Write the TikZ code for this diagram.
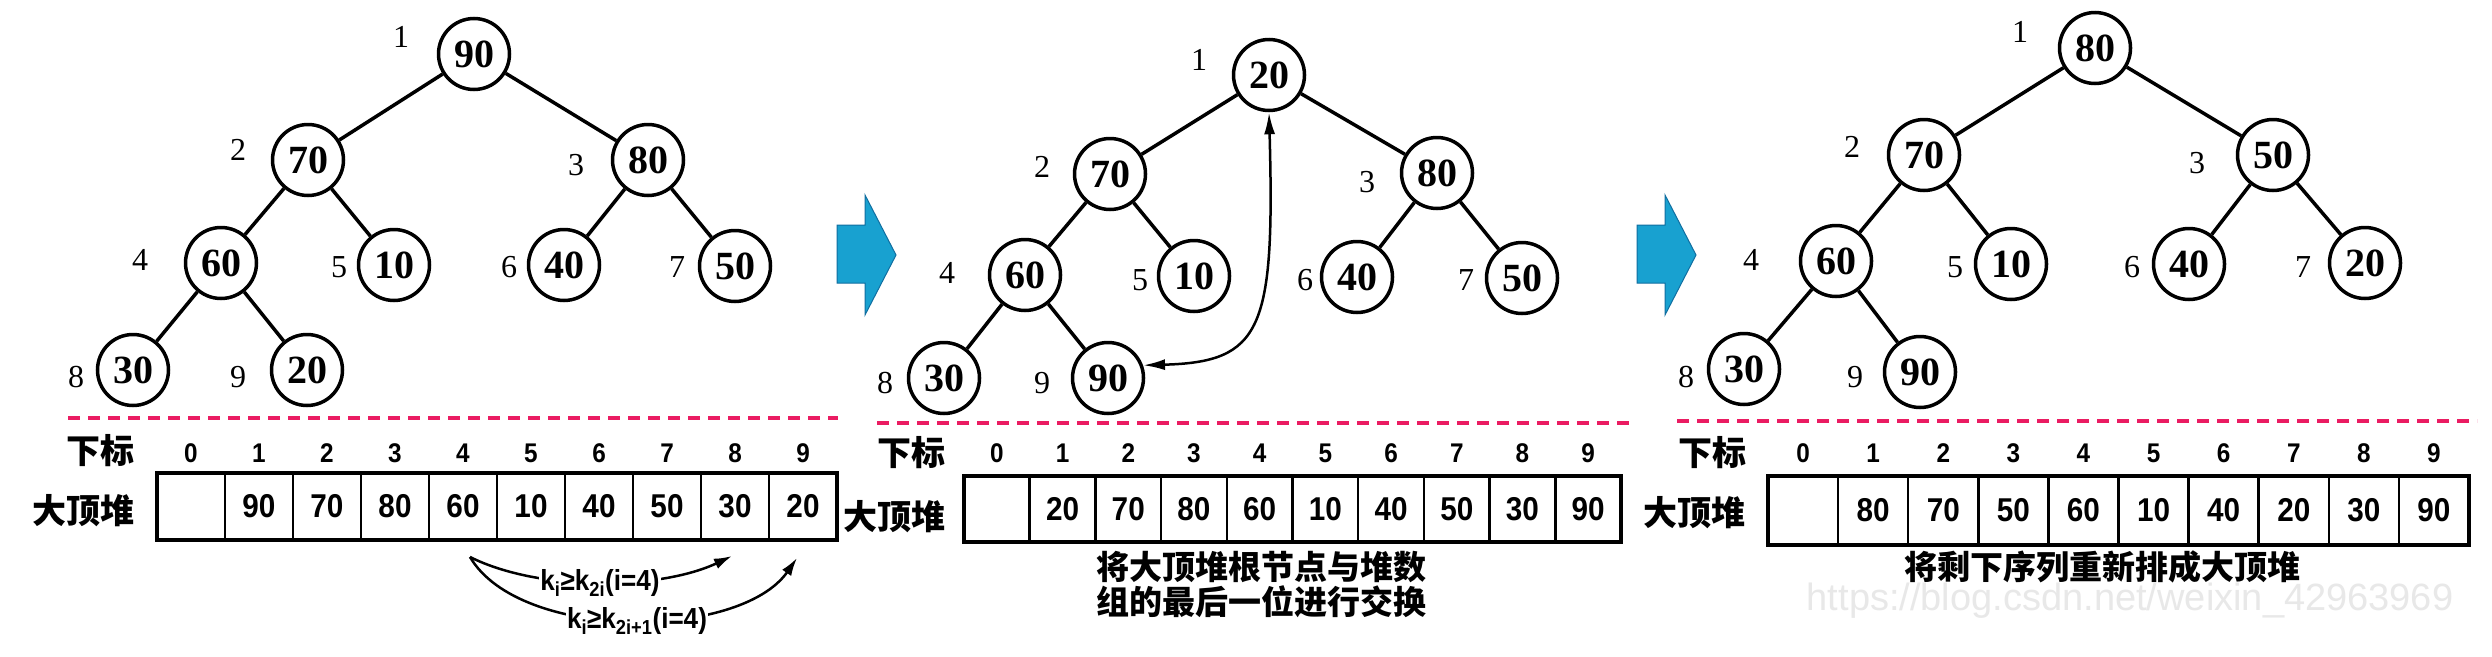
\documentclass[tikz,border=0pt]{standalone}
\usepackage{fontspec}
\setmainfont{Liberation Serif}
\setsansfont{Liberation Sans}
\newfontfamily\cjk{Noto Sans CJK SC}
\newfontfamily\arrfont[FakeStretch=0.9]{Liberation Sans}
\usetikzlibrary{arrows.meta}
\definecolor{sepred}{RGB}{234,28,98}
\definecolor{bluefill}{RGB}{24,161,208}
\definecolor{blueedge}{RGB}{16,110,160}
\definecolor{wmgray}{RGB}{232,232,232}
\tikzset{
  tnode/.style={circle, draw=black, line width=3.5pt, minimum size=71pt, inner sep=0pt, font=\rmfamily\bfseries\fontsize{40}{40}\selectfont},
  tlab/.style={inner sep=0pt, font=\rmfamily\fontsize{32}{32}\selectfont},
  tedge/.style={line width=3.5pt},
  sepline/.style={draw=sepred, line width=4pt, dash pattern=on 12pt off 8pt},
  cell/.style={draw=black, line width=2.5pt, inner sep=0pt, font=\arrfont\bfseries\fontsize{33}{33}\selectfont},
  arrframe/.style={draw=black, line width=4.5pt},
  idx/.style={inner sep=0pt, font=\arrfont\bfseries\fontsize{27}{27}\selectfont},
  cjklab/.style={inner sep=0pt, font=\cjk\bfseries\fontsize{34}{34}\selectfont},
  capt/.style={inner sep=0pt, align=center, font=\cjk\bfseries\fontsize{33}{35}\selectfont},
  bigarrow/.style={fill=bluefill, draw=blueedge, line width=1pt},
  swaparrow/.style={line width=2.5pt, {Latex[length=22pt,width=11pt]}-{Latex[length=22pt,width=11pt]}},
  notearrow/.style={line width=2.5pt, -{Latex[length=18pt,width=11pt]}},
  notelab/.style={fill=white, inner sep=1pt, font=\arrfont\bfseries\fontsize{29}{29}\selectfont},
  wmark/.style={inner sep=0pt, text=wmgray, font=\sffamily\fontsize{38}{38}\selectfont},
}
\begin{document}
\begin{tikzpicture}[x=1pt,y=-1pt]
\useasboundingbox (0,0) rectangle (2492,656);
\fill[white] (0,0) rectangle (2492,656);

% ---------------- Panel 1 ----------------
\node[tnode] (a1) at (474,54) {90};
\node[tnode] (a2) at (308,160) {70};
\node[tnode] (a3) at (648,160) {80};
\node[tnode] (a4) at (221,263) {60};
\node[tnode] (a5) at (394,265) {10};
\node[tnode] (a6) at (564,265) {40};
\node[tnode] (a7) at (735,266) {50};
\node[tnode] (a8) at (133,370) {30};
\node[tnode] (a9) at (307,370) {20};
\draw[tedge] (a1) -- (a2); \draw[tedge] (a1) -- (a3);
\draw[tedge] (a2) -- (a4); \draw[tedge] (a2) -- (a5);
\draw[tedge] (a3) -- (a6); \draw[tedge] (a3) -- (a7);
\draw[tedge] (a4) -- (a8); \draw[tedge] (a4) -- (a9);
\node[tlab] (al1) at (401,37) {1};
\node[tlab] (al2) at (238,150) {2};
\node[tlab] (al3) at (576,165) {3};
\node[tlab] (al4) at (140,260) {4};
\node[tlab] (al5) at (339,267) {5};
\node[tlab] (al6) at (509,267) {6};
\node[tlab] (al7) at (677,267) {7};
\node[tlab] (al8) at (76,377) {8};
\node[tlab] (al9) at (238,377) {9};
\draw[sepline] (68,418) -- (838,418);
\node[cjklab] (axb) at (100,451) {下标};
\node[cjklab] (adh) at (83,511) {大顶堆};
\foreach \v [count=\i from 0] in {{},90,70,80,60,10,40,50,30,20} {
  \node[cell, minimum width=68pt, minimum height=67pt] (ac\i) at ({191+68*\i},506.5) {\v};
  \node[idx] (ai\i) at ({191+68*\i},453) {\i};
}
\draw[arrframe] (157,473) rectangle (837,540);
\coordinate (k0) at (470,557);
\coordinate (k8) at (732,556);
\coordinate (k9) at (797,558);
\draw[notearrow] (k0) .. controls (540,592) and (660,590) .. (k8);
\draw[notearrow] (k0) .. controls (520,642) and (740,640) .. (k9);
\node[notelab] (kl1) at (600,583) {k\textsubscript{i}≥k\textsubscript{2i}(i=4)};
\node[notelab] (kl2) at (637,621) {k\textsubscript{i}≥k\textsubscript{2i+1}(i=4)};

% arrow 1
\draw[bigarrow] (837,225) -- (865,225) -- (865,195) -- (896,255) -- (865,315) -- (865,283) -- (837,283) -- cycle;

% ---------------- Panel 2 ----------------
\node[tnode] (b1) at (1269,75) {20};
\node[tnode] (b2) at (1110,174) {70};
\node[tnode] (b3) at (1437,173) {80};
\node[tnode] (b4) at (1025,275) {60};
\node[tnode] (b5) at (1194,276) {10};
\node[tnode] (b6) at (1357,277) {40};
\node[tnode] (b7) at (1522,278) {50};
\node[tnode] (b8) at (944,378) {30};
\node[tnode] (b9) at (1108,378) {90};
\draw[tedge] (b1) -- (b2); \draw[tedge] (b1) -- (b3);
\draw[tedge] (b2) -- (b4); \draw[tedge] (b2) -- (b5);
\draw[tedge] (b3) -- (b6); \draw[tedge] (b3) -- (b7);
\draw[tedge] (b4) -- (b8); \draw[tedge] (b4) -- (b9);
\node[tlab] (bl1) at (1199,60) {1};
\node[tlab] (bl2) at (1042,167) {2};
\node[tlab] (bl3) at (1367,182) {3};
\node[tlab] (bl4) at (947,273) {4};
\node[tlab] (bl5) at (1140,280) {5};
\node[tlab] (bl6) at (1305,280) {6};
\node[tlab] (bl7) at (1466,280) {7};
\node[tlab] (bl8) at (885,383) {8};
\node[tlab] (bl9) at (1042,383) {9};
\draw[swaparrow] (b1.south) .. controls (1275,330) and (1262,362) .. (b9.20);
\draw[sepline] (877,423) -- (1629,423);
\node[cjklab] (bxb) at (911,453) {下标};
\node[cjklab] (bdh) at (894,517) {大顶堆};
\foreach \v [count=\i from 0] in {{},20,70,80,60,10,40,50,30,90} {
  \node[cell, minimum width=65.7pt, minimum height=66pt] (bc\i) at ({996.85+65.7*\i},509) {\v};
  \node[idx] (bi\i) at ({996.85+65.7*\i},453) {\i};
}
\draw[arrframe] (964,476) rectangle (1621,542);
\node[capt] (cap2) at (1261,585) {将大顶堆根节点与堆数\\组的最后一位进行交换};

% arrow 2
\draw[bigarrow] (1637,225) -- (1665,225) -- (1665,195) -- (1696,255) -- (1665,315) -- (1665,283) -- (1637,283) -- cycle;

% ---------------- Panel 3 ----------------
\node[tnode] (c1) at (2095,48) {80};
\node[tnode] (c2) at (1924,155) {70};
\node[tnode] (c3) at (2273,155) {50};
\node[tnode] (c4) at (1836,261) {60};
\node[tnode] (c5) at (2011,264) {10};
\node[tnode] (c6) at (2189,264) {40};
\node[tnode] (c7) at (2365,263) {20};
\node[tnode] (c8) at (1744,369) {30};
\node[tnode] (c9) at (1920,372) {90};
\draw[tedge] (c1) -- (c2); \draw[tedge] (c1) -- (c3);
\draw[tedge] (c2) -- (c4); \draw[tedge] (c2) -- (c5);
\draw[tedge] (c3) -- (c6); \draw[tedge] (c3) -- (c7);
\draw[tedge] (c4) -- (c8); \draw[tedge] (c4) -- (c9);
\node[tlab] (cl1) at (2020,32) {1};
\node[tlab] (cl2) at (1852,147) {2};
\node[tlab] (cl3) at (2197,163) {3};
\node[tlab] (cl4) at (1751,260) {4};
\node[tlab] (cl5) at (1955,267) {5};
\node[tlab] (cl6) at (2132,267) {6};
\node[tlab] (cl7) at (2303,267) {7};
\node[tlab] (cl8) at (1686,377) {8};
\node[tlab] (cl9) at (1855,377) {9};
\draw[sepline] (1677,421) -- (2477,421);
\node[cjklab] (cxb) at (1712,453) {下标};
\node[cjklab] (cdh) at (1694,513) {大顶堆};
\foreach \v [count=\i from 0] in {{},80,70,50,60,10,40,20,30,90} {
  \node[cell, minimum width=70.1pt, minimum height=69pt] (cc\i) at ({1803.05+70.1*\i},510.5) {\v};
  \node[idx] (ci\i) at ({1803.05+70.1*\i},453) {\i};
}
\draw[arrframe] (1768,476) rectangle (2469,545);
\node[capt] (cap3) at (2102,567) {将剩下序列重新排成大顶堆};
\node[wmark] (wm) at (2130,601) {https://blog.csdn.net/weixin\_42963969};
\end{tikzpicture}
\end{document}
